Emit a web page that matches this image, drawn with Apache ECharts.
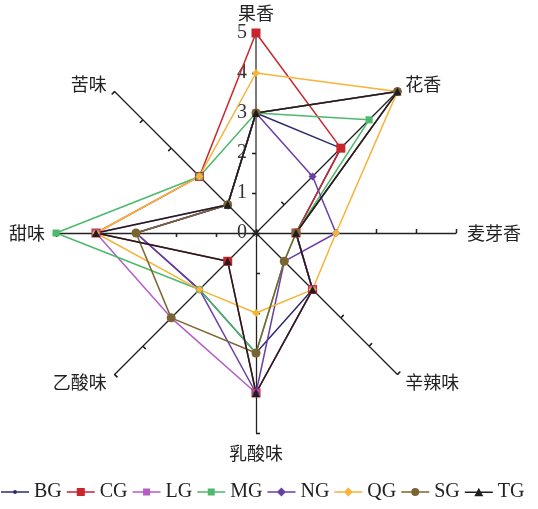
<!DOCTYPE html>
<html>
<head>
<meta charset="utf-8">
<script src="https://cdn.jsdelivr.net/npm/echarts@6/dist/echarts.min.js"></script>
<style>
  html, body { margin: 0; padding: 0; background: #ffffff; }
  #chart { width: 538px; height: 509px; }
</style>
</head>
<body>
<div id="chart"></div>
<script>
// Flavour attributes, listed in the order ECharts lays radar axes out
// (starting at the top and going counter-clockwise).
const attributes = ['果香', '苦味', '甜味', '乙酸味', '乳酸味', '辛辣味', '麦芽香', '花香'];
const scaleMax = 5;

// Sensory scores per sample, same order as `attributes`.
const BG = [3, 1, 3, 2, 3, 2, 1, 3];
const CG = [5, 2, 4, 1, 4, 2, 1, 3];
const LG = [3, 1, 4, 3, 4, 2, 1, 5];
const MG = [3, 2, 5, 2, 3, 1, 1, 4];
const NG = [3, 1, 3, 2, 4, 1, 2, 2];
const QG = [4, 2, 4, 2, 2, 2, 2, 5];
const SG = [3, 1, 3, 3, 3, 1, 1, 5];
const TG = [3, 1, 4, 1, 4, 2, 1, 5];

// Legend icons: a short line with the series marker in its middle (28 x 12 box).
const LINE = 'M0 5.3 H28 V6.7 H0 Z ';
const ICONS = {
  dot:      LINE + 'M12 6 A2 2 0 1 1 16 6 A2 2 0 1 1 12 6 Z',
  rect:     LINE + 'M10 2 H18 V10 H10 Z',
  smallRect: LINE + 'M10.5 2.5 H17.5 V9.5 H10.5 Z',
  diamond:  LINE + 'M14 1.5 L18.5 6 L14 10.5 L9.5 6 Z',
  circle:   LINE + 'M10 6 A4 4 0 1 1 18 6 A4 4 0 1 1 10 6 Z',
  triangle: LINE + 'M14 1.5 L18.5 10 L9.5 10 Z'
};

const samples = [
  { name: 'BG', values: BG, color: '#2f2c6b', symbol: 'circle',   size: 4, icon: ICONS.dot },
  { name: 'CG', values: CG, color: '#c8262d', symbol: 'rect',     size: 9, icon: ICONS.rect },
  { name: 'LG', values: LG, color: '#b45ec6', symbol: 'rect',     size: 7, icon: ICONS.smallRect },
  { name: 'MG', values: MG, color: '#4cb96b', symbol: 'rect',     size: 7, icon: ICONS.smallRect },
  { name: 'NG', values: NG, color: '#6a3ea9', symbol: 'diamond',  size: 8, icon: ICONS.diamond },
  { name: 'QG', values: QG, color: '#f6b43a', symbol: 'diamond',  size: 8, icon: ICONS.diamond },
  { name: 'SG', values: SG, color: '#7b6431', symbol: 'circle',   size: 9, icon: ICONS.circle },
  { name: 'TG', values: TG, color: '#1e1e1e', symbol: 'triangle', size: 8, icon: ICONS.triangle }
];

const serif = '"Liberation Serif", "DejaVu Serif", serif';
const cjk = '"Noto Sans CJK SC", sans-serif';

const chart = echarts.init(document.getElementById('chart'), null, { renderer: 'canvas' });

// Main radar: axes, names, ticks on one side and the scale on the top axis.
const mainIndicators = attributes.map((name, i) => {
  const ind = { name: name, min: 0, max: scaleMax };
  if (i === 0) {
    ind.axisLabel = {
      show: true, fontFamily: serif, fontSize: 20, color: '#333', margin: 9
    };
    ind.axisLine = { lineStyle: { color: '#7a7a7a', width: 2 } };
  }
  return ind;
});

// Second radar on the same geometry only supplies the opposite half of each tick,
// so every tick crosses its axis.
const tickIndicators = attributes.map(name => ({ name: name, min: 0, max: scaleMax }));

const option = {
  backgroundColor: '#ffffff',
  animation: false,
  radar: [
    {
      center: [256, 233],
      radius: 200,
      indicator: mainIndicators,
      splitNumber: 5,
      shape: 'polygon',
      axisName: { color: '#222', fontFamily: cjk, fontSize: 18 },
      nameGap: 11,
      axisLine: { show: true, lineStyle: { color: '#222', width: 1.3 } },
      axisTick: { show: true, length: 4, lineStyle: { color: '#222', width: 1.3 } },
      axisLabel: { show: false },
      splitLine: { show: false },
      splitArea: { show: false }
    },
    {
      center: [256, 233],
      radius: 200,
      indicator: tickIndicators,
      splitNumber: 5,
      shape: 'polygon',
      axisName: { show: false },
      axisLine: { show: false },
      axisTick: { show: true, inside: true, length: 4, lineStyle: { color: '#222', width: 1.3 } },
      axisLabel: { show: false },
      splitLine: { show: false },
      splitArea: { show: false }
    }
  ],
  legend: {
    left: 1,
    top: 482,
    width: 537,
    padding: 0,
    itemWidth: 28,
    itemHeight: 12,
    itemGap: 5,
    textStyle: { fontFamily: serif, fontSize: 20, color: '#222' },
    data: samples.map(s => ({ name: s.name, icon: 'path://' + s.icon }))
  },
  series: samples.map(s => ({
    type: 'radar',
    radarIndex: 0,
    name: s.name,
    symbol: s.symbol,
    symbolSize: s.size,
    itemStyle: { color: s.color },
    lineStyle: { color: s.color, width: 1.5 },
    data: [{ name: s.name, value: s.values }]
  }))
};

chart.setOption(option);
</script>
</body>
</html>
